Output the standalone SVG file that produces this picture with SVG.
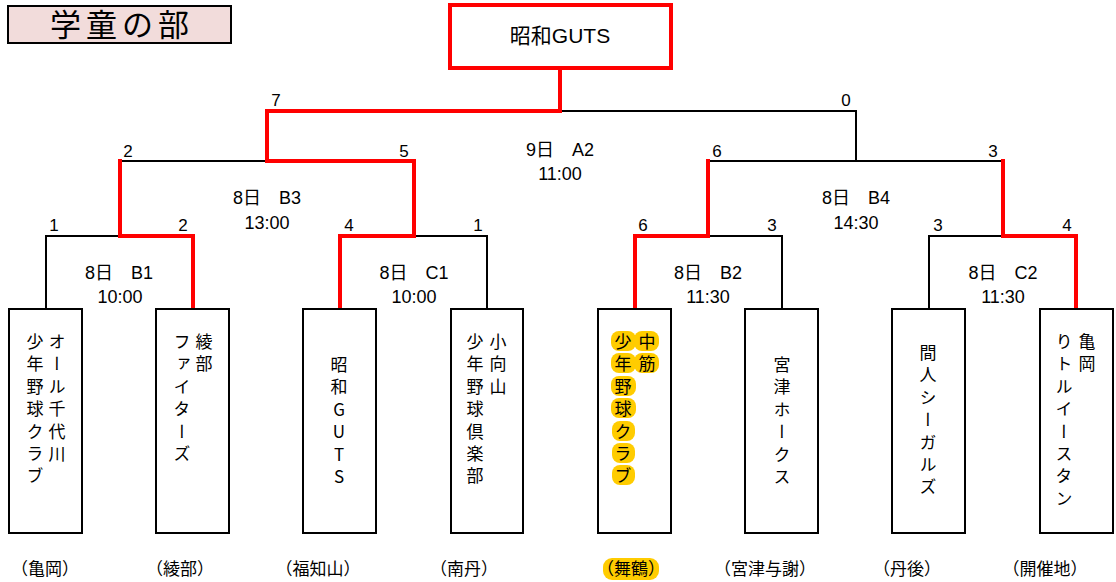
<svg xmlns="http://www.w3.org/2000/svg" width="1116" height="582" viewBox="0 0 1116 582">
<style>
.box{fill:#fff;stroke:#000;stroke-width:2}
.blk{fill:none;stroke:#000;stroke-width:2}
.red{fill:none;stroke:#ff0000;stroke-width:4}
.lbl{font-family:"Liberation Sans","Noto Sans CJK JP",sans-serif;font-size:18px;fill:#000;text-anchor:middle}
.num{font-family:"Liberation Sans","Noto Sans CJK JP",sans-serif;font-size:17px;fill:#000;text-anchor:middle}
.v{font-family:"Noto Sans CJK JP",sans-serif;font-size:17px;fill:#000;writing-mode:vertical-rl;letter-spacing:5.4px}
.up{text-orientation:upright}
.loc{font-family:"Noto Sans CJK JP",sans-serif;font-size:17px;fill:#000;text-anchor:middle}
.hl{fill:#ffcc00}
</style>
<g id="title">
<rect x="8" y="6" width="223" height="37" fill="#f2dcdb" stroke="#000" stroke-width="2"/>
<text x="122" y="36" font-family="Noto Sans CJK JP,sans-serif" font-size="31" letter-spacing="5" text-anchor="middle">学童の部</text>
</g>
<g id="connectors">
<path class="blk" d="M560,111 H856 V161 M708,161 H1003 M120,161 H267 M46,310 V236 H120 M414,236 H487 V310 M708,236 H782 V310 M929,310 V236 H1003"/>
<path class="red" d="M560,68 V111 H267 V161 H414 V236 H340 V310"/>
<path class="red" d="M193,310 V236 H120 V159"/>
<path class="red" d="M635,310 V236 H708 V159"/>
<path class="red" d="M1076,310 V236 H1003 V159"/>
</g>
<g id="champion">
<rect x="450" y="5" width="221" height="63" fill="#fff" stroke="#ff0000" stroke-width="4"/>
<text x="560" y="43" font-family="Liberation Sans,Noto Sans CJK JP,sans-serif" font-size="21" text-anchor="middle">昭和GUTS</text>
</g>
<g id="scores">
<text class="num" x="276" y="106">7</text>
<text class="num" x="846" y="106">0</text>
<text class="num" x="128" y="157">2</text>
<text class="num" x="404" y="157">5</text>
<text class="num" x="717" y="157">6</text>
<text class="num" x="993" y="157">3</text>
<text class="num" x="54" y="231">1</text>
<text class="num" x="183" y="231">2</text>
<text class="num" x="349" y="231">4</text>
<text class="num" x="478" y="231">1</text>
<text class="num" x="643" y="231">6</text>
<text class="num" x="772" y="231">3</text>
<text class="num" x="938" y="231">3</text>
<text class="num" x="1067" y="231">4</text>
</g>
<g id="matches">
<text class="lbl" x="560" y="156">9日　A2</text>
<text class="lbl" x="560" y="180">11:00</text>
<text class="lbl" x="267" y="204">8日　B3</text>
<text class="lbl" x="267" y="229">13:00</text>
<text class="lbl" x="856" y="204">8日　B4</text>
<text class="lbl" x="856" y="229">14:30</text>
<text class="lbl" x="119" y="279">8日　B1</text>
<text class="lbl" x="120" y="303">10:00</text>
<text class="lbl" x="414" y="279">8日　C1</text>
<text class="lbl" x="414" y="303">10:00</text>
<text class="lbl" x="708" y="279">8日　B2</text>
<text class="lbl" x="708" y="303">11:30</text>
<text class="lbl" x="1003" y="279">8日　C2</text>
<text class="lbl" x="1003" y="303">11:30</text>
</g>
<g id="team1">
<rect class="box" x="9" y="309" width="73" height="224"/>
<text class="v" x="57" y="333">オール千代川</text>
<text class="v" x="35" y="333">少年野球クラブ</text>
</g>
<g id="team2">
<rect class="box" x="156" y="309" width="73" height="224"/>
<text class="v" x="204" y="333">綾部</text>
<text class="v" x="182" y="333">ファイターズ</text>
</g>
<g id="team3">
<rect class="box" x="303" y="309" width="73" height="224"/>
<text class="v up" x="339" y="356">昭和GUTS</text>
</g>
<g id="team4">
<rect class="box" x="451" y="309" width="72" height="224"/>
<text class="v" x="498" y="333">小向山</text>
<text class="v" x="475" y="333">少年野球倶楽部</text>
</g>
<g id="team5">
<rect class="box" x="598" y="309" width="73" height="224"/>
<rect class="hl" x="611" y="331" width="25" height="20" rx="8"/>
<rect class="hl" x="611" y="353" width="25" height="20" rx="8"/>
<rect class="hl" x="611" y="376" width="25" height="20" rx="8"/>
<rect class="hl" x="611" y="398" width="25" height="20" rx="8"/>
<rect class="hl" x="612" y="421" width="23" height="20" rx="8"/>
<rect class="hl" x="612" y="443" width="23" height="20" rx="8"/>
<rect class="hl" x="612" y="465" width="23" height="20" rx="8"/>
<rect class="hl" x="634" y="331" width="25" height="20" rx="8"/>
<rect class="hl" x="634" y="353" width="25" height="20" rx="8"/>
<text class="v" x="647" y="333">中筋</text>
<text class="v" x="623" y="333">少年野球クラブ</text>
</g>
<g id="team6">
<rect class="box" x="745" y="309" width="73" height="224"/>
<text class="v" x="782" y="356">宮津ホークス</text>
</g>
<g id="team7">
<rect class="box" x="892" y="309" width="73" height="224"/>
<text class="v" x="928" y="344">間人シーガルズ</text>
</g>
<g id="team8">
<rect class="box" x="1040" y="309" width="73" height="224"/>
<text class="v" x="1087" y="333">亀岡</text>
<text class="v" x="1064" y="333">りトルイースタン</text>
</g>
<g id="locations">
<text class="loc" x="45" y="575">（亀岡）</text>
<text class="loc" x="180" y="575">（綾部）</text>
<text class="loc" x="318" y="575">（福知山）</text>
<text class="loc" x="464" y="575">（南丹）</text>
<rect class="hl" x="603" y="558" width="56" height="22" rx="9"/>
<text class="loc" x="631" y="575">（舞鶴）</text>
<text class="loc" x="765" y="575">（宮津与謝）</text>
<text class="loc" x="907" y="575">（丹後）</text>
<text class="loc" x="1045" y="575">（開催地）</text>
</g>
</svg>
